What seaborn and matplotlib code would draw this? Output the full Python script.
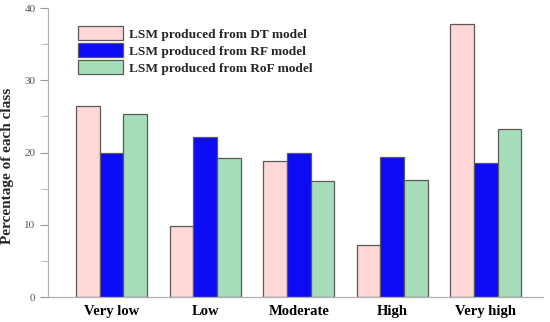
import pandas as pd
import matplotlib
matplotlib.use("Agg")
import matplotlib.pyplot as plt
import seaborn as sns
from matplotlib.ticker import MultipleLocator

# Data
classes = ["Very low", "Low", "Moderate", "High", "Very high"]
models = ["LSM produced from DT model", "LSM produced from RF model", "LSM produced from RoF model"]
dt_vals = [26.5, 9.8, 18.8, 7.2, 37.8]
rf_vals = [19.9, 22.2, 20.0, 19.4, 18.6]
rof_vals = [25.4, 19.2, 16.1, 16.2, 23.2]
colors = ["#FFD7D7", "#0B0BF5", "#A6DDBA"]

rows = []
for model, vals in zip(models, [dt_vals, rf_vals, rof_vals]):
    for c, v in zip(classes, vals):
        rows.append({"cls": c, "model": model, "pct": v})
df = pd.DataFrame(rows)

sns.set_theme(style="white")
plt.rcParams["font.family"] = ["Liberation Serif", "DejaVu Serif"]

fig = plt.figure(figsize=(5.5, 3.22), dpi=100)
ax = fig.add_axes([0.0873, 0.0776, 0.8997, 0.8974])

sns.barplot(data=df, x="cls", y="pct", hue="model", order=classes, hue_order=models,
            palette=colors, width=0.76, edgecolor="#5a5a5a", linewidth=0.9,
            saturation=1, ax=ax)

ax.set_xlim(-0.68, 4.61)
ax.set_ylim(0, 40)
ax.yaxis.set_major_locator(MultipleLocator(10))
ax.yaxis.set_minor_locator(MultipleLocator(5))
ax.tick_params(axis="y", which="major", direction="out", length=6, width=0.8,
               color="#999999", labelsize=8, labelcolor="#555555", left=True, pad=3)
ax.tick_params(axis="y", which="minor", direction="out", length=5, width=0.8,
               color="#bbbbbb", left=True)
ax.tick_params(axis="x", length=0, pad=6)
for lab in ax.get_xticklabels():
    lab.set_fontweight("bold")
    lab.set_fontsize(10.5)
    lab.set_color("black")

for s in ["top", "right"]:
    ax.spines[s].set_visible(False)
for s in ["left", "bottom"]:
    ax.spines[s].set_color("#b0b0b0")
    ax.spines[s].set_linewidth(0.9)

ax.set_xlabel("")
ax.set_ylabel("Percentage of each class", fontsize=11, fontweight="bold")
ax.yaxis.set_label_coords(-0.068, 0.453)

leg = ax.legend(loc="upper left", bbox_to_anchor=(0.05, 0.955), frameon=False,
                fontsize=9.6, handlelength=3.4, handleheight=1.2, labelspacing=0.2,
                handletextpad=0.4, borderaxespad=0)
for t in leg.get_texts():
    t.set_fontweight("bold")

fig.savefig("out.png", dpi=100)
